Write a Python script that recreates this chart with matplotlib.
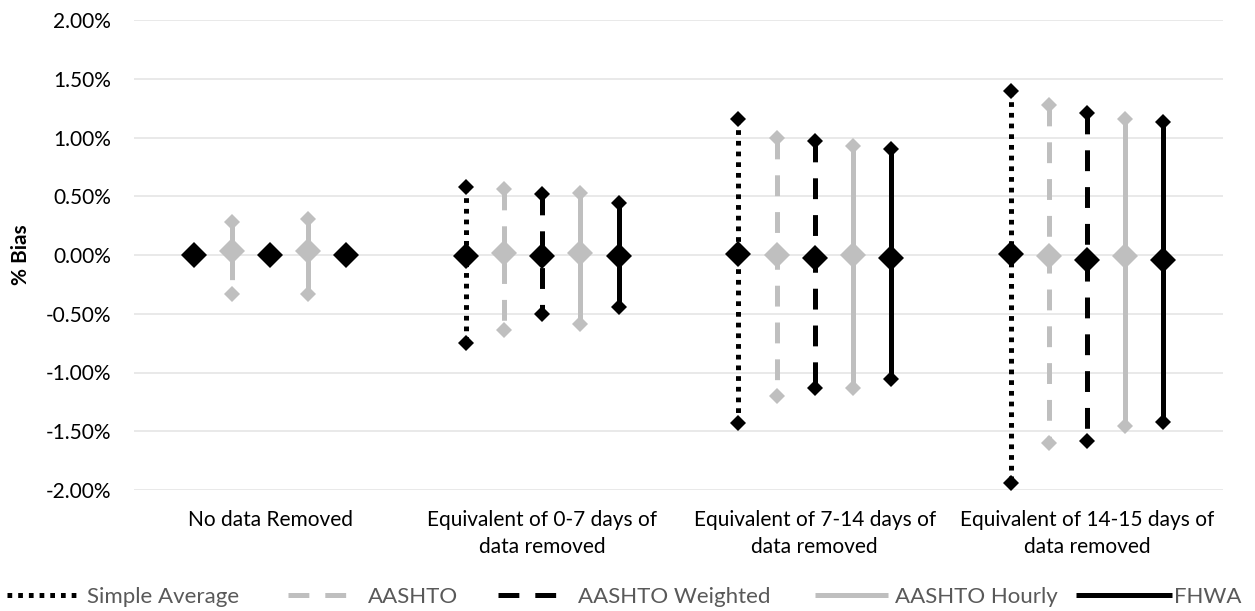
import matplotlib
matplotlib.use("Agg")
import matplotlib.pyplot as plt
from matplotlib.lines import Line2D
from matplotlib.ticker import FuncFormatter

plt.rcParams['font.family'] = ['Lato', 'DejaVu Sans']
plt.rcParams['lines.scale_dashes'] = False

categories = ["No data Removed",
              "Equivalent of 0-7 days of\ndata removed",
              "Equivalent of 7-14 days of\ndata removed",
              "Equivalent of 14-15 days of\ndata removed"]
series_names = ["Simple Average", "AASHTO", "AASHTO Weighted", "AASHTO Hourly", "FHWA"]

# values in percent
mean_sa = [0.0, -0.01, 0.005, 0.005]
max_sa = [0.0, 0.58, 1.157, 1.398]
min_sa = [0.0, -0.746, -1.432, -1.94]
mean_a = [0.037, 0.014, 0.0, -0.009]
max_a = [0.283, 0.562, 0.993, 1.277]
min_a = [-0.332, -0.638, -1.197, -1.60]
mean_w = [0.0, -0.01, -0.028, -0.043]
max_w = [0.0, 0.517, 0.973, 1.206]
min_w = [0.0, -0.505, -1.134, -1.58]
mean_h = [0.037, 0.014, 0.0, -0.009]
max_h = [0.306, 0.525, 0.93, 1.155]
min_h = [-0.332, -0.59, -1.134, -1.455]
mean_f = [0.0, -0.01, -0.028, -0.043]
max_f = [0.0, 0.44, 0.90, 1.13]
min_f = [0.0, -0.44, -1.058, -1.42]

means = [mean_sa, mean_a, mean_w, mean_h, mean_f]
maxs = [max_sa, max_a, max_w, max_h, max_f]
mins = [min_sa, min_a, min_w, min_h, min_f]

BLACK = "#000000"
GRAY = "#BFBFBF"
colors = [BLACK, GRAY, BLACK, GRAY, BLACK]
dashes = [(0, (3.4, 4.3)), (0, (15, 11.5)), (0, (15, 11.5)), None, None]
offsets = [-0.28, -0.14, 0.0, 0.14, 0.28]

fig = plt.figure(figsize=(12.55, 6.11), dpi=100)
ax = fig.add_axes([134/1255, 1-490/611, (1223-134)/1255, (490-20)/611])

lw = 3.6
for i in range(5):
    for j in range(len(categories)):
        x = j + offsets[i]
        ln, = ax.plot([x, x], [maxs[i][j], mins[i][j]], color=colors[i], lw=lw,
                      solid_capstyle='butt', dash_capstyle='butt', zorder=2 + i)
        if dashes[i] is not None:
            ln.set_linestyle(dashes[i])
        ax.plot([x, x], [maxs[i][j], mins[i][j]], linestyle='none', marker='D',
                markersize=8.0, color=colors[i], markeredgewidth=0, zorder=2.5 + i)
        ax.plot([x], [means[i][j]], linestyle='none', marker='D', markersize=13.3,
                color=colors[i], markeredgewidth=0, zorder=2.6 + i)

ax.set_xlim(-0.5, len(categories) - 0.5)
ax.set_ylim(-2.0, 2.0)
ax.set_yticks([-2.0, -1.5, -1.0, -0.5, 0.0, 0.5, 1.0, 1.5, 2.0])
ax.yaxis.set_major_formatter(FuncFormatter(lambda v, p: f"{v:.2f}%"))
ax.set_xticks(range(len(categories)))
ax.set_xticklabels(categories, linespacing=1.46)
ax.grid(axis='y', color='#E3E3E3', lw=1.1, zorder=0)
ax.set_axisbelow(True)
for s in ax.spines.values():
    s.set_visible(False)
ax.tick_params(axis='both', length=0, labelsize=15, colors='#000000')
ax.tick_params(axis='y', pad=16.6)
ax.tick_params(axis='x', pad=14.5)
ax.set_ylabel("% Bias", fontsize=15, fontweight='bold')
ax.yaxis.set_label_coords(-(134 - 31) / 1089, 0.5)

# one legend entry per series, placed where the reference puts it
legend_x_px = [7, 288, 498, 815, 1076]
handle_len = [3.3, 3.3, 3.3, 3.3, 4.3]
for i in range(5):
    h = Line2D([], [], color=colors[i], lw=lw, solid_capstyle='butt', dash_capstyle='butt')
    if dashes[i] is not None:
        h.set_linestyle(dashes[i])
    leg = fig.legend([h], [series_names[i]], loc='center left',
                     bbox_to_anchor=(legend_x_px[i] / 1255, 1 - 597/611),
                     frameon=False, fontsize=16, handlelength=handle_len[i],
                     handletextpad=0.1 if i == 4 else 0.3,
                     borderaxespad=0, borderpad=0)
    for t in leg.get_texts():
        t.set_color('#595959')

fig.savefig("out.png", dpi=100)
